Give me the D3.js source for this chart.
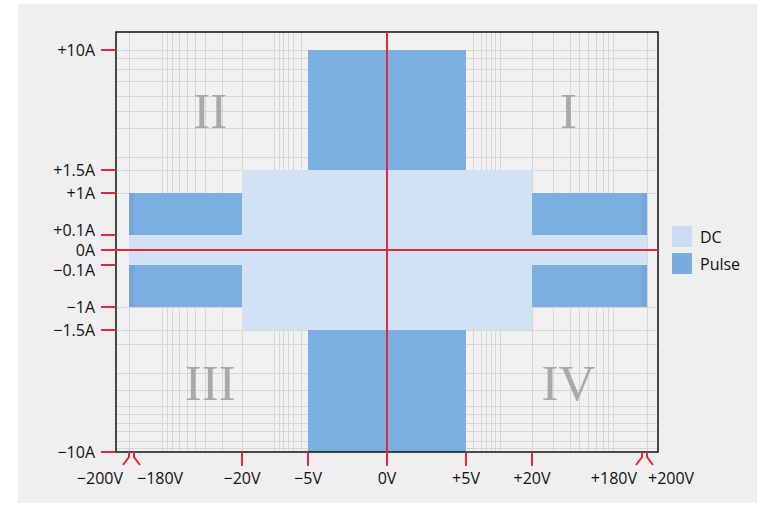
<!DOCTYPE html>
<html>
<head>
<meta charset="utf-8">
<script src="https://cdn.jsdelivr.net/npm/d3@7"></script>
<style>
  html, body { margin: 0; padding: 0; background: #ffffff; }
  svg { display: block; }
</style>
</head>
<body>
<svg id="chart" width="773" height="509"></svg>
<script>
// ---------------- data ----------------
const xTickValues = [-200, -180, -20, -5, 0, 5, 20, 180, 200];
const xTickLabels = ["\u2212200V", "\u2212180V", "\u221220V", "\u22125V", "0V", "+5V", "+20V", "+180V", "+200V"];
const yTickValues = [10, 1.5, 1, 0.1, 0, -0.1, -1, -1.5, -10];
const yTickLabels = ["+10A", "+1.5A", "+1A", "+0.1A", "0A", "\u22120.1A", "\u22121A", "\u22121.5A", "\u221210A"];
const seriesNames = ["DC", "Pulse"];
// operating regions: voltage range (V) x current range (A)
const pulseRegions = [
  { v0: -200, v1: 200, a0: -1, a1: 1 },
  { v0: -5, v1: 5, a0: -10, a1: 10 }
];
const pulseEdgeRegions = [
  { v0: -200, v1: -180, a0: -1, a1: 1 },
  { v0: 180, v1: 200, a0: -1, a1: 1 }
];
const dcRegions = [
  { v0: -20, v1: 20, a0: -1.5, a1: 1.5 },
  { v0: -200, v1: 200, a0: -0.1, a1: 0.1 }
];
const quadrantLabels = [
  { name: "I", v: 73, a: 5.75 },
  { name: "II", v: -67, a: 5.75 },
  { name: "III", v: -67, a: -5.1 },
  { name: "IV", v: 73, a: -5.1 }
];
// background grid (log-paper style) in data units
const gridVolts = [6.6, 8.4, 9.6, 10.7, 11.7, 12.7, 20, 50, 75, 89, 101, 113, 123, 131, 138, 200];
const gridAmps = [10, 9.4, 8.65, 7.8, 6.75, 5.7, 4.5, 2.45, 1.5, 1,
                  -1, -1.5, -2.5, -4.5, -5.7, -6.8, -7.35, -8.0, -8.55, -9.2, -9.75];

// ---------------- layout ----------------
const svg = d3.select("#chart");
const frame = { left: 116, right: 658, top: 32, bottom: 452 };
const colors = { dc: "#d2e2f4", pulse: "#7cafe0", pulseEdge: "#72a7dc", red: "#e2283c", grid: "#d6d6d6" };
const font = "'Open Sans', sans-serif";
const fontSize = 16;

const x = d3.scaleLinear()
  .domain(xTickValues)
  .range([129, 134, 242, 308, 387, 466, 532, 642, 647]);
const y = d3.scaleLinear()
  .domain(yTickValues)
  .range([50, 170, 193, 235, 250, 265, 307, 330, 452]);

// figure background
svg.append("rect").attr("x", 18).attr("y", 4).attr("width", 739).attr("height", 499).attr("fill", "#efefef");
svg.append("rect").attr("x", frame.left).attr("y", frame.top)
  .attr("width", frame.right - frame.left).attr("height", frame.bottom - frame.top).attr("fill", "#f1f1f1");

// grid
const gridG = svg.append("g").attr("stroke", colors.grid).attr("stroke-width", 1);
const allGridV = gridVolts.flatMap(v => [v, -v]);
gridG.selectAll("line.gv").data(allGridV).join("line")
  .attr("x1", d => Math.round(x(d)) + 0.5).attr("x2", d => Math.round(x(d)) + 0.5)
  .attr("y1", frame.top).attr("y2", frame.bottom);
gridG.selectAll("line.ga").data(gridAmps).join("line")
  .attr("x1", frame.left).attr("x2", frame.right)
  .attr("y1", d => Math.round(y(d)) + 0.5).attr("y2", d => Math.round(y(d)) + 0.5);

function rectAttrs(sel) {
  sel.attr("x", d => x(d.v0)).attr("width", d => x(d.v1) - x(d.v0))
     .attr("y", d => y(d.a1)).attr("height", d => y(d.a0) - y(d.a1));
}
svg.append("g").selectAll("rect").data(pulseRegions).join("rect").call(rectAttrs).attr("fill", colors.pulse);
svg.append("g").selectAll("rect").data(pulseEdgeRegions).join("rect").call(rectAttrs).attr("fill", colors.pulseEdge);
svg.append("g").selectAll("rect").data(dcRegions).join("rect").call(rectAttrs).attr("fill", colors.dc);

// frame
svg.append("rect").attr("x", frame.left).attr("y", frame.top)
  .attr("width", frame.right - frame.left).attr("height", frame.bottom - frame.top)
  .attr("fill", "none").attr("stroke", "#111").attr("stroke-width", 1.5);

// red axes
svg.append("line").attr("x1", x(0)).attr("x2", x(0)).attr("y1", frame.top).attr("y2", frame.bottom + 14)
  .attr("stroke", colors.red).attr("stroke-width", 2);
svg.append("line").attr("x1", frame.left - 15).attr("x2", frame.right).attr("y1", y(0)).attr("y2", y(0))
  .attr("stroke", colors.red).attr("stroke-width", 2);

// y ticks & labels
const yG = svg.append("g");
yG.selectAll("line").data(yTickValues).join("line")
  .attr("x1", frame.left - 15).attr("x2", frame.left).attr("y1", d => y(d)).attr("y2", d => y(d))
  .attr("stroke", colors.red).attr("stroke-width", 2);
// small label nudges where ticks are crowded around 0A
const yLabelShift = d => d === 0.1 ? -5 : d === -0.1 ? 5 : 0;
yG.selectAll("text").data(yTickValues).join("text")
  .attr("x", frame.left - 21).attr("y", d => y(d) + yLabelShift(d)).attr("dy", "0.35em")
  .attr("text-anchor", "end")
  .attr("font-family", font).attr("font-size", fontSize).attr("fill", "#111")
  .text((d, i) => yTickLabels[i]);

// x ticks
const xG = svg.append("g");
const normalX = xTickValues.filter(v => Math.abs(v) < 100 && v !== 0);
xG.selectAll("line").data(normalX).join("line")
  .attr("x1", d => x(d)).attr("x2", d => x(d)).attr("y1", frame.bottom).attr("y2", frame.bottom + 14)
  .attr("stroke", colors.red).attr("stroke-width", 2);
// broken-axis markers for the far ends
const breakMarks = xTickValues.filter(v => Math.abs(v) > 100);
xG.selectAll("path").data(breakMarks).join("path")
  .attr("d", d => {
    const px = x(d);
    const outer = Math.abs(d) === 200;
    const dir = (d < 0) === outer ? -1 : 1;
    return `M${px},${frame.bottom} L${px},${frame.bottom + 5} L${px + dir * 6},${frame.bottom + 13}`;
  })
  .attr("fill", "none").attr("stroke", colors.red).attr("stroke-width", 2);
xG.selectAll("text").data(xTickValues).join("text")
  .attr("x", d => {
    if (d === -200) return x(d) - 6;
    if (d === -180) return x(d) + 3;
    if (d === 180) return x(d) - 5;
    if (d === 200) return x(d) + 1;
    return x(d);
  })
  .attr("y", frame.bottom + 26).attr("dy", "0.35em")
  .attr("text-anchor", d => (d === -200 || d === 180) ? "end" : (d === -180 || d === 200) ? "start" : "middle")
  .attr("font-family", font).attr("font-size", fontSize).attr("fill", "#111")
  .text((d, i) => xTickLabels[i]);

// quadrant numerals
svg.append("g").selectAll("text").data(quadrantLabels).join("text")
  .attr("x", d => x(d.v)).attr("y", d => y(d.a)).attr("dy", "0.35em")
  .attr("text-anchor", "middle")
  .attr("font-family", "'Liberation Serif', 'Times New Roman', serif").attr("font-size", 51)
  .attr("fill", "#a9a9a9")
  .text(d => d.name);

// legend
const legend = svg.append("g").attr("transform", "translate(672,226)");
const li = legend.selectAll("g").data(seriesNames).join("g")
  .attr("transform", (d, i) => `translate(0,${i * 27})`);
li.append("rect").attr("width", 20).attr("height", 21).attr("fill", (d, i) => i === 0 ? "#c9dcf1" : "#78ace0");
li.append("text").attr("x", 28).attr("y", 11).attr("dy", "0.35em")
  .attr("font-family", font).attr("font-size", fontSize).attr("fill", "#111")
  .text(d => d);
</script>
</body>
</html>
